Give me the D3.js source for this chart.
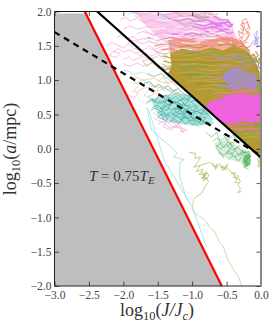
<!DOCTYPE html>
<html><head><meta charset="utf-8">
<script src="https://cdn.jsdelivr.net/npm/d3@7"></script>
<style>html,body{margin:0;background:#fff}svg{display:block}text{font-family:"Liberation Serif",serif}</style>
</head><body><div id="c"></div>
<script>
const xTicks=[-3,-2.5,-2,-1.5,-1,-0.5,0];
const yTicks=[-2,-1.5,-1,-0.5,0,0.5,1,1.5,2];
const redLine=[[-2.56,2],[-0.57,-2]];
const solidLine=[[-2.38,2],[0,-0.13]];
const dashLine=[[-3,1.7],[0,-0.1]];
const greyRegion=[[-3,1.97],[-2.545,1.97],[-0.57,-2],[-3,-2]];
// outlines of the saturated clouds
const pinkCloud=[-1.85,2,-1.5,1.96,-1.2,2,-0.72,2,-0.58,1.9,-0.42,1.8,-0.36,1.62,-0.3,1.5,-1.3,1.5,-1.5,1.62,-1.7,1.82];
const salmonCloud=[-1.35,1.58,-1.1,1.62,-0.9,1.56,-0.7,1.6,-0.5,1.64,-0.38,1.6,-0.25,1.52,-0.14,1.38,-1.3,1.3];
const goldCloud=[-1.32,1.38,-1.15,1.46,-0.95,1.42,-0.7,1.48,-0.55,1.43,-0.4,1.5,-0.22,1.44,-0.1,1.32,-0.02,1.12,0,0.6,0,-0.12,-0.1,-0.05,-0.6,0.39,-1.0,0.76,-1.36,1.08,-1.3,1.2];
const periCloud=[-0.56,1.06,-0.48,1.14,-0.32,1.18,-0.2,1.12,-0.1,1.1,-0.05,0.96,-0.1,0.86,-0.25,0.9,-0.4,0.86,-0.5,0.94];
const magentaCloud=[-0.82,0.6,-0.72,0.7,-0.6,0.72,-0.5,0.78,-0.3,0.8,-0.1,0.78,0,0.82,0,0.4,-0.12,0.37,-0.25,0.4,-0.4,0.36,-0.56,0.38];
const tealCloud=[-1.6,0.72,-1.25,0.82,-1.02,0.78,-0.78,0.55,-0.68,0.36,-0.95,0.33,-1.3,0.38,-1.5,0.5];
const greenCloud=[-0.24,-0.1,-0.16,-0.08,-0.15,-0.22,-0.22,-0.26,-0.27,-0.18];
const greenHaze=[-0.68,0.08,-0.5,0.14,-0.3,0.02,-0.14,-0.06,-0.16,-0.28,-0.3,-0.2,-0.5,-0.14,-0.62,-0.06];
// scribbled paths
const pinkLines=[
[-2.25,1.5,-2.18,1.55,-2.1,1.52,-2.0,1.47,-1.92,1.53,-1.85,1.46,-1.7,1.44,-1.62,1.5,-1.55,1.45,-1.4,1.5,-1.2,1.47,-1.0,1.48],
[-2.1,1.62,-2.02,1.66,-1.95,1.6,-1.85,1.64,-1.8,1.58,-1.65,1.62,-1.5,1.58,-1.3,1.62,-1.1,1.58,-0.9,1.62],
[-2.05,1.88,-1.97,1.92,-1.9,1.86,-1.8,1.9,-1.7,1.84,-1.6,1.88,-1.45,1.82,-1.3,1.88,-1.1,1.82,-0.9,1.88,-0.7,1.8],
[-1.9,2.0,-1.75,1.96,-1.55,1.99,-1.4,1.95,-1.2,1.99,-1,1.94,-0.8,1.98,-0.65,1.92],
[-2.0,1.75,-1.9,1.79,-1.8,1.74,-1.65,1.78,-1.5,1.73,-1.3,1.78,-1.1,1.74,-0.9,1.78,-0.6,1.74],
[-1.75,1.36,-1.68,1.4,-1.6,1.35,-1.5,1.4,-1.45,1.34,-1.38,1.38,-1.35,1.33],
[-2.0,1.3,-1.92,1.34,-1.85,1.29,-1.75,1.33,-1.7,1.28,-1.55,1.33],
[-2.15,1.42,-2.07,1.46,-2.0,1.41,-1.9,1.44,-1.82,1.39,-1.72,1.43],
[-1.95,1.54,-1.85,1.58,-1.72,1.53,-1.62,1.56,-1.5,1.52,-1.4,1.55],
[-2.2,1.36,-2.1,1.33,-2.05,1.39,-2.14,1.42,-2.2,1.36],
[-1.7,1.7,-1.55,1.66,-1.42,1.7,-1.3,1.66,-1.15,1.7],
[-1.45,1.94,-1.32,1.9,-1.2,1.94,-1.05,1.9,-0.9,1.94,-0.75,1.9],
[-1.8,1.68,-1.68,1.72,-1.55,1.64,-1.44,1.74,-1.32,1.68],
[-1.62,1.46,-1.5,1.42,-1.4,1.46,-1.3,1.42],
[-2.0,1.24,-1.9,1.2,-1.8,1.25,-1.7,1.2]];
const whiteStreaks=[
[-1.6,1.6,-1.45,1.58,-1.3,1.6],[-1.15,1.55,-1.0,1.53,-0.88,1.55],[-0.8,1.95,-0.72,1.93,-0.66,1.95],[-1.25,1.78,-1.1,1.76,-1.0,1.78],
[-0.95,1.62,-0.8,1.6,-0.65,1.62],[-0.62,1.55,-0.5,1.53,-0.42,1.55],[-1.5,1.88,-1.38,1.86,-1.28,1.88],[-0.75,1.7,-0.62,1.68,-0.52,1.7],
[-1.25,1.45,-1.12,1.46,-1.0,1.44],[-0.6,1.4,-0.5,1.42,-0.38,1.4],[-1.65,1.75,-1.5,1.74,-1.38,1.76],[-1.4,1.66,-1.25,1.64,-1.12,1.66],
[-0.95,1.84,-0.85,1.82,-0.75,1.84],[-0.55,1.78,-0.48,1.76,-0.42,1.74],[-1.2,1.9,-1.08,1.92,-0.98,1.9],[-1.1,1.7,-0.98,1.71,-0.88,1.69]];
const orchidLines=[
[-1.35,1.9,-1.2,1.86,-1.05,1.9,-0.95,1.85,-0.8,1.88,-0.65,1.83,-0.5,1.84],
[-1.0,1.94,-0.85,1.9,-0.7,1.94,-0.6,1.88,-0.48,1.88,-0.42,1.78],
[-1.15,1.76,-1.0,1.79,-0.85,1.74,-0.7,1.78,-0.55,1.73,-0.44,1.75],
[-0.75,1.84,-0.62,1.8,-0.55,1.84,-0.46,1.78,-0.4,1.82],
[-0.82,1.72,-0.7,1.68,-0.58,1.72,-0.46,1.68,-0.4,1.7],
[-1.3,1.68,-1.15,1.65,-1.0,1.69,-0.85,1.65],
[-0.95,1.82,-0.82,1.79,-0.7,1.83,-0.58,1.78],
[-0.72,1.76,-0.6,1.8,-0.5,1.75,-0.42,1.8,-0.48,1.86,-0.56,1.82]];
const greenTopLines=[
[-1.25,1.98,-1.1,1.92,-1.0,1.95,-0.9,1.89,-0.78,1.92,-0.62,1.97],
[-1.1,1.68,-0.98,1.64,-0.85,1.68,-0.72,1.62,-0.6,1.65],
[-1.55,1.42,-1.4,1.38,-1.25,1.42,-1.1,1.38],
[-1.72,1.28,-1.66,1.2,-1.58,1.27,-1.5,1.17,-1.38,1.2,-1.3,1.12],
[-1.2,1.84,-1.1,1.8,-1.0,1.84,-0.92,1.8],
[-1.45,1.24,-1.35,1.2,-1.22,1.24,-1.12,1.2],
[-1.65,1.1,-1.55,1.05,-1.45,1.1,-1.38,1.02],
[-0.98,1.96,-0.86,1.92,-0.75,1.96]];
const salmonLines=[
[-1.65,1.62,-1.5,1.58,-1.3,1.62,-1.1,1.57,-0.9,1.62,-0.7,1.57,-0.5,1.6,-0.38,1.54],
[-1.55,1.5,-1.35,1.53,-1.15,1.49,-0.95,1.53,-0.75,1.49,-0.55,1.53,-0.35,1.5],
[-0.65,1.66,-0.5,1.58,-0.42,1.62,-0.36,1.52,-0.3,1.58,-0.22,1.46,-0.15,1.5],
[-0.32,1.42,-0.24,1.4,-0.18,1.34,-0.1,1.38,-0.06,1.28],
[-1.45,1.44,-1.3,1.46,-1.2,1.42,-1.05,1.46],
[-0.45,1.56,-0.36,1.6,-0.28,1.52,-0.2,1.56]];
const coralBlob=[
[-0.36,1.55,-0.3,1.62,-0.33,1.72,-0.27,1.67,-0.24,1.8,-0.28,1.86,-0.22,1.9,-0.17,1.78,-0.22,1.72,-0.16,1.68,-0.2,1.6,-0.28,1.55,-0.22,1.48,-0.32,1.44,-0.38,1.52],
[-0.3,1.75,-0.25,1.72,-0.28,1.82,-0.2,1.84,-0.16,1.74,-0.24,1.66,-0.3,1.7],
[-0.32,1.6,-0.26,1.64,-0.3,1.54,-0.22,1.58,-0.18,1.66,-0.24,1.76,-0.3,1.8,-0.25,1.85]];
const periBlob=[
[-0.1,1.5,-0.06,1.6,-0.1,1.66,-0.05,1.72,-0.08,1.58,-0.03,1.63,-0.07,1.52,-0.13,1.55,-0.14,1.5],
[-0.12,1.58,-0.07,1.55,-0.09,1.63,-0.04,1.56,-0.06,1.47]];
const goldEdge=[
[-1.42,1.35,-1.3,1.32,-1.18,1.37],[-1.48,1.18,-1.38,1.15,-1.28,1.2],[-1.42,1.28,-1.32,1.25,-1.22,1.28],
[-0.12,1.38,-0.06,1.28,-0.02,1.32,-0.04,1.2,0,1.15],[-0.08,1.42,-0.04,1.36,-0.09,1.3,-0.03,1.25],
[-1.2,1.48,-1.05,1.5,-0.9,1.47,-0.78,1.5],[-0.62,1.5,-0.48,1.54,-0.36,1.5],[-0.34,1.48,-0.24,1.5,-0.16,1.42]];
const lightGoldStreaks=[
[-1.3,1.3,-1.1,1.29,-0.9,1.31,-0.7,1.28,-0.5,1.3,-0.3,1.27,-0.1,1.29],
[-1.25,1.1,-1.0,1.12,-0.75,1.09,-0.6,1.11],
[-1.1,0.98,-0.9,1.0,-0.7,0.97,-0.52,0.99],
[-0.95,0.86,-0.75,0.88,-0.55,0.85],
[-0.45,0.3,-0.3,0.28,-0.15,0.3,0,0.27],
[-0.28,0.16,-0.15,0.18,0,0.15],
[-1.28,1.38,-1.05,1.36,-0.8,1.39,-0.55,1.36,-0.3,1.38],
[-1.2,1.22,-0.95,1.24,-0.7,1.21,-0.45,1.23],
[-0.9,1.16,-0.7,1.14,-0.58,1.16],
[-1.0,1.04,-0.8,1.06,-0.62,1.03],
[-0.85,0.92,-0.65,0.94,-0.5,0.92],
[-0.72,0.8,-0.58,0.82,-0.42,0.82,-0.2,0.84,0,0.86],
[-0.3,0.22,-0.15,0.23,0,0.21]];
const darkGoldStreaks=[
[-1.28,1.26,-1.05,1.27,-0.8,1.25,-0.55,1.27],
[-1.15,1.08,-0.9,1.09,-0.65,1.07],
[-0.95,0.94,-0.72,0.95,-0.5,0.96],
[-0.2,1.38,-0.1,1.24,-0.03,1.1],
[-0.35,0.34,-0.2,0.33,0,0.35]];
const salmonOnGold=[
[-1.3,1.42,-1.1,1.41,-0.9,1.43,-0.7,1.41],
[-0.95,1.33,-0.75,1.34,-0.55,1.32,-0.35,1.34],
[-0.6,1.2,-0.45,1.21,-0.3,1.19],
[-0.85,1.0,-0.7,1.01,-0.55,1.0],
[-0.25,1.22,-0.15,1.2,-0.05,1.22]];
const tealBandLines=[
[-1.12,1.38,-1.0,1.4,-0.85,1.37,-0.7,1.4,-0.55,1.36],
[-0.4,1.28,-0.3,1.3,-0.2,1.26,-0.1,1.28,-0.02,1.24],
[-1.08,1.08,-0.95,1.05,-0.82,1.09,-0.7,1.06],
[-1.2,1.2,-1.05,1.18,-0.9,1.21,-0.76,1.18],
[-0.62,0.95,-0.5,0.93,-0.4,0.96],
[-0.03,0.55,-0.02,0.7,-0.03,0.82,-0.01,0.95,-0.03,1.05],
[-0.08,0.4,-0.04,0.36,-0.08,0.3,-0.02,0.26],
[-0.4,0.24,-0.3,0.22,-0.2,0.25,-0.1,0.22]];
const periLines=[
[-0.7,1.33,-0.55,1.3,-0.4,1.34,-0.25,1.3],
[-0.62,1.2,-0.48,1.18,-0.35,1.21,-0.22,1.18],
[-0.55,1.05,-0.45,1.08,-0.5,1.0,-0.42,0.96],
[-0.3,1.26,-0.2,1.22,-0.1,1.25,-0.03,1.18],
[-0.12,1.08,-0.06,1.02,-0.1,0.96,-0.03,0.92],
[-0.42,1.36,-0.3,1.38,-0.2,1.34,-0.12,1.36],
[-0.68,1.06,-0.58,1.03,-0.48,1.07],
[-0.65,0.92,-0.55,0.9,-0.45,0.92]];
const goldOnPeri=[
[-0.45,1.04,-0.32,1.02,-0.2,1.05,-0.1,1.03],[-0.42,0.94,-0.3,0.92,-0.18,0.95],[-0.4,1.13,-0.28,1.11,-0.18,1.13],[-0.5,1.0,-0.38,0.98,-0.25,1.0,-0.12,0.98],[-0.35,1.08,-0.22,1.09,-0.12,1.07]];
const magentaEdge=[
[-0.65,0.76,-0.52,0.8,-0.38,0.83,-0.22,0.82,-0.08,0.84],
[-0.48,0.86,-0.35,0.87,-0.2,0.86,-0.06,0.88],
[-0.5,0.34,-0.38,0.33,-0.24,0.35,-0.1,0.33],
[-0.4,0.29,-0.28,0.3,-0.15,0.28,-0.04,0.3]];
const goldOnMagenta=[
[-0.6,0.75,-0.45,0.77,-0.3,0.74,-0.15,0.77,0,0.75],
[-0.5,0.62,-0.35,0.64,-0.2,0.62,-0.05,0.64],
[-0.72,0.66,-0.6,0.68,-0.5,0.66],
[-0.06,0.55,-0.03,0.45,-0.05,0.4,-0.01,0.5],
[-0.45,0.41,-0.3,0.43,-0.18,0.41,-0.06,0.43]];
const tealLines=[
[-1.66,0.68,-1.58,0.72,-1.5,0.66,-1.42,0.7,-1.35,0.64,-1.27,0.68,-1.2,0.62,-1.12,0.66,-1.05,0.6,-0.97,0.62,-0.9,0.56,-0.84,0.58,-0.78,0.48],
[-1.58,0.6,-1.5,0.64,-1.45,0.58,-1.38,0.62,-1.3,0.56,-1.22,0.6,-1.15,0.54,-1.08,0.58,-1.0,0.52,-0.93,0.55,-0.85,0.5,-0.78,0.52,-0.7,0.42],
[-1.7,0.95,-1.62,0.98,-1.55,0.9,-1.48,0.94,-1.42,0.88,-1.35,0.92,-1.28,0.84,-1.2,0.88,-1.15,0.82,-1.05,0.76],
[-1.5,0.52,-1.43,0.56,-1.38,0.5,-1.3,0.54,-1.25,0.48,-1.18,0.52,-1.12,0.46,-1.05,0.5,-1.0,0.44,-0.93,0.46,-0.88,0.42,-0.78,0.36],
[-1.4,0.46,-1.34,0.5,-1.28,0.44,-1.22,0.48,-1.16,0.42,-1.1,0.46,-1.05,0.4,-0.98,0.43,-0.92,0.38,-0.82,0.42],
[-1.45,0.75,-1.38,0.78,-1.3,0.72,-1.24,0.76,-1.18,0.7,-1.1,0.74,-1.02,0.68,-0.96,0.71,-0.9,0.66],
[-1.32,0.4,-1.26,0.44,-1.2,0.38,-1.14,0.42,-1.1,0.36,-1.04,0.4,-1,0.35,-0.95,0.37,-0.9,0.32],
[-1.2,0.78,-1.1,0.7,-1.0,0.78,-1.12,0.62,-1.22,0.68,-1.08,0.56,-1.18,0.5,-1.26,0.56,-1.14,0.6,-1.04,0.52],
[-1.35,0.62,-1.25,0.7,-1.18,0.55,-1.3,0.5,-1.15,0.45,-1.05,0.6,-0.95,0.52,-1.02,0.46,-0.92,0.44,-0.98,0.38],
[-1.62,0.74,-1.55,0.68,-1.48,0.78,-1.38,0.72,-1.42,0.62,-1.3,0.66,-1.36,0.56,-1.46,0.6,-1.4,0.5],
[-1.6,0.56,-1.52,0.6,-1.44,0.52,-1.5,0.46,-1.4,0.42,-1.46,0.5,-1.34,0.48,-1.38,0.4],
[-1.0,0.66,-0.92,0.62,-0.98,0.56,-0.88,0.52,-0.82,0.56,-0.9,0.46,-0.8,0.46,-0.84,0.4,-0.74,0.38],
[-1.28,0.58,-1.2,0.6,-1.12,0.5,-1.06,0.54,-1.0,0.48,-1.08,0.44,-1.14,0.52],
[-1.18,0.42,-1.08,0.46,-1.0,0.4,-0.94,0.44,-0.88,0.36,-0.82,0.38],
[-1.5,0.7,-1.44,0.66,-1.34,0.74,-1.26,0.66,-1.16,0.72,-1.1,0.62,-1.02,0.64]];
const tealSparse=[
[-2.0,1.15,-1.9,1.12,-1.85,1.08,-1.72,1.12,-1.58,1.05,-1.45,1.1,-1.3,1.0],
[-1.85,0.95,-1.7,1.0,-1.58,0.9,-1.7,0.78,-1.55,0.72,-1.68,0.65],
[-1.7,1.6,-1.55,1.54,-1.42,1.58,-1.25,1.52,-1.4,1.44],
[-1.5,1.98,-1.35,1.92,-1.48,1.86,-1.32,1.82],
[-1.95,1.95,-1.85,2,-1.82,1.92,-1.72,1.96],
[-1.4,1.05,-1.3,0.98,-1.22,1.02,-1.15,0.94],
[-1.6,0.86,-1.5,0.92,-1.4,0.84,-1.3,0.88,-1.22,0.8]];
const orangeLines=[
[-1.85,1.05,-1.7,1.0,-1.55,1.03,-1.42,0.96,-1.3,0.98,-1.2,0.88],
[-1.78,0.85,-1.65,0.9,-1.52,0.84,-1.38,0.88,-1.25,0.8,-1.15,0.84],
[-1.65,0.76,-1.5,0.82,-1.38,0.74,-1.26,0.85,-1.12,0.76,-1.0,0.8],
[-1.85,1.0,-1.78,0.92,-1.86,0.84,-1.78,0.82,-1.82,0.78],
[-1.8,1.38,-1.62,1.3,-1.48,1.36,-1.32,1.26,-1.2,1.3],
[-1.72,1.2,-1.58,1.25,-1.45,1.16,-1.3,1.2,-1.2,1.12],
[-1.5,0.98,-1.42,1.04,-1.35,0.94,-1.28,0.98,-1.22,0.92],
[-1.62,0.96,-1.5,0.88,-1.42,0.92,-1.32,0.82,-1.22,0.86]];
const pinkLowLines=[
[-1.57,0.52,-1.45,0.45,-1.35,0.38,-1.25,0.42,-1.15,0.3,-1.08,0.27,-1.18,0.24],
[-1.55,0.44,-1.42,0.38,-1.32,0.3,-1.22,0.34,-1.12,0.23],
[-1.5,0.36,-1.38,0.42,-1.3,0.33,-1.2,0.3,-1.28,0.4],
[-2.05,0.77,-1.95,0.8,-1.85,0.74,-1.8,0.78],
[-1.45,0.5,-1.36,0.44,-1.42,0.32,-1.3,0.27,-1.2,0.36,-1.14,0.26]];
const greenLines=[
[-0.65,0.05,-0.58,0.0,-0.5,0.06,-0.42,-0.02,-0.34,0.02,-0.26,-0.06,-0.16,-0.04],
[-0.62,-0.06,-0.54,-0.1,-0.46,-0.03,-0.38,-0.12,-0.3,-0.06,-0.22,-0.14,-0.14,-0.1],
[-0.55,0.2,-0.48,0.13,-0.4,0.2,-0.32,0.08,-0.24,0.14,-0.2,0.04],
[-0.8,0.24,-0.72,0.17,-0.64,0.24,-0.6,0.12,-0.52,0.16,-0.46,0.08,-0.38,0.1],
[-0.3,-0.1,-0.22,-0.04,-0.15,-0.12,-0.24,-0.18,-0.16,-0.22,-0.26,-0.26,-0.18,-0.3],
[-0.28,-0.02,-0.2,-0.14,-0.27,-0.22,-0.19,-0.26,-0.25,-0.14,-0.17,-0.06,-0.23,-0.28],
[-0.48,-0.16,-0.4,-0.1,-0.33,-0.18,-0.28,-0.12],
[-0.6,0.1,-0.54,0.02,-0.48,0.1,-0.42,0.04,-0.5,-0.06,-0.42,-0.08,-0.36,0.0,-0.3,0.06],
[-0.7,0.1,-0.64,0.16,-0.58,0.08,-0.66,0.02,-0.6,-0.04,-0.54,-0.14],
[-0.5,0.02,-0.44,0.08,-0.38,-0.02,-0.32,-0.1,-0.26,-0.02,-0.2,-0.1,-0.15,-0.18]];
const oliveLines=[
[-1.05,-0.05,-0.95,-0.07,-0.96,-0.14,-0.88,-0.12,-0.92,-0.2,-0.98,-0.27,-0.88,-0.24,-0.94,-0.33,-0.84,-0.3,-0.9,-0.38,-0.78,-0.36,-0.86,-0.42,-0.78,-0.44,-0.76,-0.38,-0.8,-0.33,-0.84,-0.39,-0.76,-0.48,-0.82,-0.56,-0.86,-0.65,-0.94,-0.7,-0.98,-0.74],
[-0.88,-0.24,-0.75,-0.2,-0.66,-0.27,-0.6,-0.22,-0.56,-0.32,-0.5,-0.26,-0.46,-0.32,-0.4,-0.36,-0.36,-0.44,-0.34,-0.38,-0.3,-0.48,-0.34,-0.52,-0.3,-0.58,-0.34,-0.64,-0.28,-0.62],
[-0.56,-0.24,-0.52,-0.3,-0.48,-0.22,-0.54,-0.28,-0.58,-0.26,-0.5,-0.31],
[-0.86,-0.33,-0.82,-0.4,-0.86,-0.44,-0.8,-0.38,-0.84,-0.47,-0.78,-0.42],
[-0.44,-0.37,-0.37,-0.35,-0.4,-0.42,-0.34,-0.44,-0.38,-0.49,-0.32,-0.5],
[-0.7,-0.2,-0.68,-0.27,-0.64,-0.22,-0.67,-0.3,-0.62,-0.26],
[-0.04,-0.02,-0.02,-0.1,-0.05,-0.16,-0.01,-0.22,-0.04,-0.27,-0.02,-0.12]];
const paleLine=[-0.98,-0.74,-1.0,-0.88,-0.95,-0.95,-0.87,-1.0,-0.82,-1.03,-0.74,-1.15,-0.68,-1.2,-0.6,-1.37,-0.55,-1.42,-0.48,-1.62,-0.4,-1.76,-0.32,-1.88,-0.28,-2];
const cyanA=[-1.66,0.61,-1.59,0.27,-1.37,0.08,-1.22,-0.06,-1.27,-0.12,-1.12,-0.16,-1.18,-0.2,-1.18,-0.41,-1.08,-0.74];
const cyanB=[-1.63,0.57,-1.41,-0.16,-1.18,-0.55,-1.0,-0.85,-0.79,-1.43];

const W=274,H=328,L=54.5,R=261,T=11.5,B=286;
const x=d3.scaleLinear().domain([-3,0]).range([L,R]);
const y=d3.scaleLinear().domain([-2,2]).range([B,T]);
const svg=d3.select("#c").append("svg").attr("width",W).attr("height",H);
const defs=svg.append("defs");
defs.append("clipPath").attr("id","cp").append("rect").attr("x",L).attr("y",T).attr("width",R-L).attr("height",B-T);
defs.append("filter").attr("id","soft").append("feGaussianBlur").attr("stdDeviation",0.45);
const root=svg.append("g").attr("clip-path","url(#cp)");
const line=d3.line().x(d=>x(d[0])).y(d=>y(d[1]));
const pairs=f=>d3.range(0,f.length,2).map(i=>[f[i],f[i+1]]);
root.append("path").attr("d",line(greyRegion)+"Z").attr("fill","#bebebe");
const plot=root.append("g").attr("filter","url(#soft)");
function draw(rows,color,w,op){
  plot.append("g").selectAll("path").data(rows).join("path")
    .attr("d",r=>line(pairs(r))).attr("fill","none").attr("stroke",color)
    .attr("stroke-width",w).attr("stroke-opacity",op).attr("stroke-linejoin","round");
}
function cloud(f,color,op){plot.append("path").attr("d",line(pairs(f))+"Z").attr("fill",color).attr("fill-opacity",op);}
cloud(pinkCloud,"#f6a8de",0.6);
cloud(salmonCloud,"#f0907c",0.75);
draw(pinkLines,"#f59ad8",0.7,0.9);
draw(orchidLines,"#e07cf0",1.5,0.9);
draw(greenTopLines,"#9dbb6a",0.8,0.9);
draw(tealSparse,"#8fd8d0",0.6,0.9);
draw(orangeLines,"#f0a878",0.6,0.9);
draw(pinkLowLines,"#f29ad8",0.7,0.9);
draw(salmonLines,"#f08a78",1.2,0.9);
draw(whiteStreaks,"#ffffff",1.2,0.8);
cloud(goldCloud,"#b39a35",1);
draw(goldEdge,"#b39a35",1.2,0.9);
draw(lightGoldStreaks,"#cdb45a",0.8,0.8);
draw(darkGoldStreaks,"#93862c",0.9,0.8);
draw(salmonOnGold,"#dd9a68",0.9,0.7);
cloud(periCloud,"#a38cec",0.8);
draw(periLines,"#a38cec",1.2,0.85);
draw(tealBandLines,"#63a87e",1,0.85);
draw(goldOnPeri,"#b39a35",0.8,0.6);
cloud(magentaCloud,"#f062e0",1);
draw(magentaEdge,"#ee6ad8",1.3,0.75);
draw(goldOnMagenta,"#c08aa0",0.8,0.6);
draw(coralBlob,"#f08a80",0.9,0.9);
draw(periBlob,"#b0a0f0",0.9,0.9);
cloud(tealCloud,"#55c0b2",0.45);
draw(tealLines,"#35ad9e",0.7,0.95);
cloud(greenHaze,"#6cc07c",0.28);
cloud(greenCloud,"#5ab86a",0.7);
draw(greenLines,"#4cb05e",0.6,0.95);
draw(oliveLines,"#a9b860",0.7,1);
draw([paleLine],"#c8cf92",0.8,1);
draw([cyanA,cyanB],"#9adcdc",0.8,1);
root.append("path").attr("d",line(redLine)).attr("stroke","#f00").attr("stroke-width",2.2).attr("fill","none");
root.append("path").attr("d",line(solidLine)).attr("stroke","#000").attr("stroke-width",2.2).attr("fill","none");
root.append("path").attr("d",line(dashLine)).attr("stroke","#000").attr("stroke-width",2.2).attr("fill","none").attr("stroke-dasharray","6 5");
const fmt=d=>d3.format(".1f")(d).replace("-","\u2212");
function ax(gen,tx,ty){
  const g=svg.append("g").attr("transform",`translate(${tx},${ty})`).call(gen);
  g.select(".domain").remove();
  g.selectAll("line").attr("stroke","#111").attr("stroke-width",0.7);
  g.selectAll("text").attr("font-family","Liberation Serif").attr("font-size",11.5).attr("fill","#444");
  return g;
}
ax(d3.axisLeft(y).tickValues(yTicks).tickFormat(fmt).tickSize(-4.5).tickPadding(2),L,0).selectAll("text").attr("x",-3);
ax(d3.axisRight(y).tickValues(yTicks).tickFormat("").tickSize(-4.5),R,0);
ax(d3.axisBottom(x).tickValues(xTicks).tickFormat(fmt).tickSize(-4.5).tickPadding(1),0,B).selectAll("text").attr("y",5);
ax(d3.axisTop(x).tickValues(xTicks).tickFormat("").tickSize(-4.5),0,T);
svg.append("path").attr("d",`M${L},${T}H${R}`).attr("stroke","#111").attr("stroke-width",1);
svg.append("path").attr("d",`M${L},${T}V${B}H${R}`).attr("stroke","#222").attr("stroke-width",1).attr("fill","none");
svg.append("path").attr("d",`M${R},${T-0.5}V${B+0.5}`).attr("stroke","#888").attr("stroke-width",2);
function label(sel,parts){
  parts.forEach(p=>{const t=sel.append("tspan").text(p[0]);
    if(p[1]==="i")t.attr("font-style","italic");
    if(p[2]){t.attr("dy",p[2]);}
    if(p[3])t.attr("font-size",p[3]);});
}
const xl=svg.append("text").attr("x",157).attr("y",316).attr("text-anchor","middle").attr("font-size",18).attr("fill","#333");
label(xl,[["log"],["10","",3.5,12.5],["(",0,-3.5],["J/J","i"],["c","i",3.5,12.5],[")",0,-3.5]]);
const yl=svg.append("text").attr("transform","translate(16,149) rotate(-90)").attr("text-anchor","middle").attr("font-size",18).attr("fill","#333");
label(yl,[["log"],["10","",3.5,12.5],["(",0,-3.5],["a","i"],["/mpc)"]]);
const tl=svg.append("text").attr("x",89).attr("y",181).attr("font-size",15).attr("fill","#333");
label(tl,[["T","i"],[" = 0.75"],["T","i"],["E","i",3,11]]);
</script></body></html>
